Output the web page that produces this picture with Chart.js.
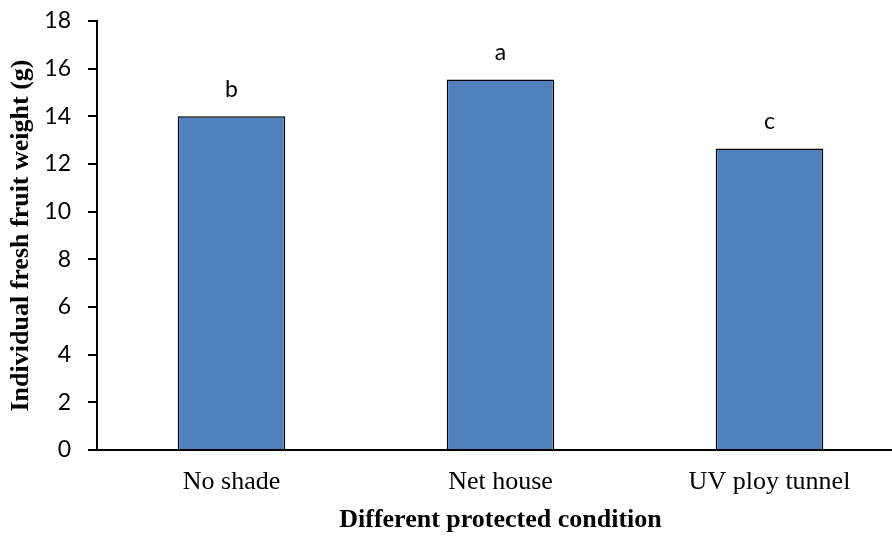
<!DOCTYPE html>
<html>
<head>
<meta charset="utf-8">
<script src="https://cdn.jsdelivr.net/npm/chart.js@4/dist/chart.umd.min.js"></script>
<style>
  html, body { margin: 0; padding: 0; background: #fff; overflow: hidden; }
  #wrap { width: 904px; height: 536px; }
</style>
</head>
<body>
<div id="wrap"><canvas id="weightChart"></canvas></div>
<script>
// Fruit weight by protected condition
const conditions = ['No shade', 'Net house', 'UV ploy tunnel'];
const fruitWeight = [14.0, 15.55, 12.65];
const groupLetters = ['b', 'a', 'c'];
const yTicks = [0, 2, 4, 6, 8, 10, 12, 14, 16, 18];

const serif = '"Liberation Serif", "Times New Roman", serif';
const sans = 'Lato, "Open Sans", sans-serif';

// letter above each bar (significance group)
const letterPlugin = {
  id: 'groupLetters',
  afterDatasetsDraw(chart) {
    const ctx = chart.ctx;
    const meta = chart.getDatasetMeta(0);
    ctx.save();
    ctx.font = '23px ' + sans;
    ctx.fillStyle = '#000';
    ctx.textAlign = 'center';
    ctx.textBaseline = 'middle';
    meta.data.forEach((bar, i) => {
      ctx.fillText(groupLetters[i], bar.x, bar.y - 27);
    });
    ctx.restore();
  }
};

new Chart(document.getElementById('weightChart').getContext('2d'), {
  type: 'bar',
  data: {
    labels: conditions,
    datasets: [{
      data: fruitWeight,
      backgroundColor: '#4F81BD',
      borderColor: '#000',
      borderWidth: 1.5,
      barPercentage: 0.4,
      categoryPercentage: 1.0
    }]
  },
  options: {
    responsive: true,
    maintainAspectRatio: false,
    animation: false,
    layout: { padding: { top: 21, right: 0, left: 0, bottom: 0 } },
    plugins: {
      legend: { display: false },
      tooltip: { enabled: false }
    },
    scales: {
      x: {
        grid: { display: false, drawTicks: false },
        border: { display: true, color: '#000', width: 2 },
        ticks: {
          color: '#000',
          font: { family: serif, size: 26 },
          padding: 17
        },
        title: {
          display: true,
          text: 'Different protected condition',
          color: '#000',
          font: { family: serif, size: 26, weight: 'bold' },
          padding: { top: 0, bottom: 0 }
        },
        afterFit(scale) { scale.height = 86; }
      },
      y: {
        min: 0,
        max: 18,
        afterBuildTicks(scale) { scale.ticks = yTicks.map(v => ({ value: v })); },
        grid: { display: true, drawOnChartArea: false, drawTicks: true, tickLength: 9, color: '#000', lineWidth: 2 },
        border: { display: true, color: '#000', width: 2 },
        ticks: {
          color: '#000',
          font: { family: sans, size: 23 },
          padding: 17
        },
        title: {
          display: true,
          text: 'Individual fresh fruit weight (g)',
          color: '#000',
          font: { family: serif, size: 26, weight: 'bold' },
          padding: { top: 6, bottom: 0 }
        },
        afterFit(scale) {
          scale.width = 97;
          // let the top label overhang so the axis starts right below the layout padding
          scale.paddingTop = 0;
          scale.paddingBottom = 0;
        }
      }
    }
  },
  plugins: [letterPlugin]
});
</script>
</body>
</html>
